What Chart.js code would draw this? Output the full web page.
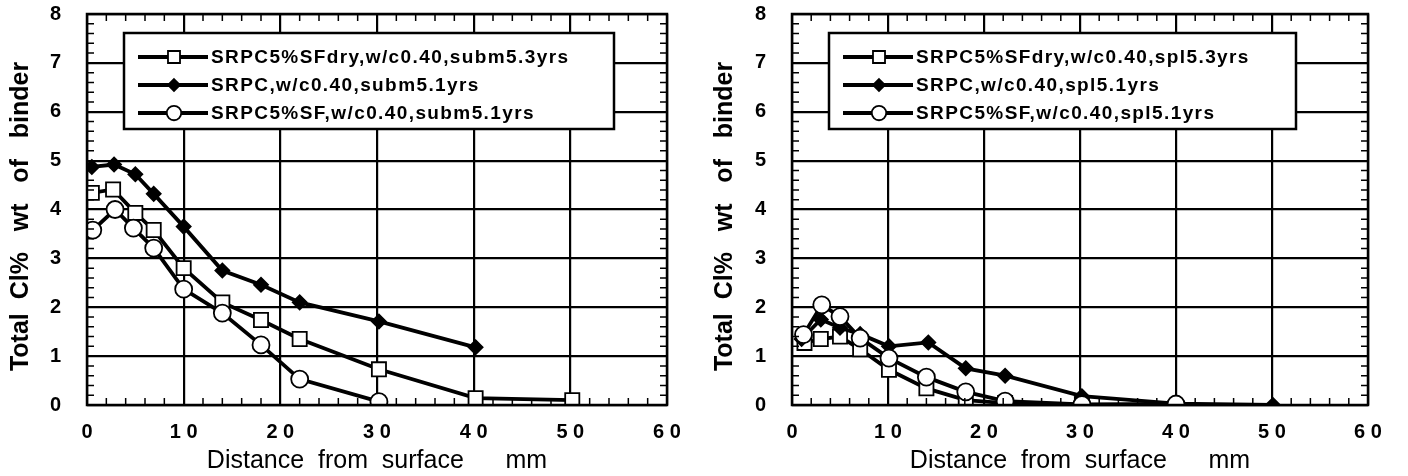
<!DOCTYPE html>
<html>
<head>
<meta charset="utf-8">
<script src="https://cdn.jsdelivr.net/npm/chart.js@4.4.1/dist/chart.umd.min.js"></script>
<style>
  html, body { margin: 0; padding: 0; background: #fff; overflow: hidden; }
  #wrap { position: relative; width: 1408px; height: 476px; overflow: hidden; }
  canvas { position: absolute; top: -24px; }
  #left { left: 0; }
  #right { left: 704px; }
</style>
</head>
<body>
<div id="wrap">
  <canvas id="left" width="704" height="500"></canvas>
  <canvas id="right" width="704" height="500"></canvas>
</div>
<script>
// ---- data ----
// left: submerged
var subDryX = [0.5, 2.7, 5.0, 6.9, 10.0, 14.0, 18.0, 22.0, 30.2, 40.2, 50.2];
var subDryY = [4.34, 4.41, 3.93, 3.58, 2.80, 2.10, 1.74, 1.35, 0.73, 0.14, 0.10];
var subPcX = [0.5, 2.8, 5.0, 6.9, 10.0, 14.0, 18.0, 22.0, 30.2, 40.2];
var subPcY = [4.87, 4.92, 4.72, 4.32, 3.65, 2.75, 2.46, 2.10, 1.71, 1.18];
var subSfX = [0.6, 2.9, 4.8, 6.9, 10.0, 14.0, 18.0, 22.0, 30.2];
var subSfY = [3.58, 4.00, 3.62, 3.21, 2.37, 1.88, 1.23, 0.53, 0.07];

// right: splash
var splDryX = [1.3, 3.0, 5.0, 7.1, 10.1, 14.0, 18.1, 22.2, 30.2];
var splDryY = [1.27, 1.35, 1.40, 1.14, 0.72, 0.34, 0.10, 0.04, 0.0];
var splPcX = [1.0, 3.0, 5.0, 7.1, 10.1, 14.2, 18.1, 22.2, 30.2, 40.0, 50.1];
var splPcY = [1.35, 1.75, 1.58, 1.45, 1.20, 1.28, 0.75, 0.60, 0.18, 0.03, 0.0];
var splSfX = [1.2, 3.1, 5.0, 7.1, 10.1, 14.0, 18.1, 22.2, 30.2, 40.0];
var splSfY = [1.44, 2.05, 1.81, 1.37, 0.96, 0.57, 0.27, 0.08, 0.01, 0.02];

var subLabels = ['SRPC5%SFdry,w/c0.40,subm5.3yrs', 'SRPC,w/c0.40,subm5.1yrs', 'SRPC5%SF,w/c0.40,subm5.1yrs'];
var splLabels = ['SRPC5%SFdry,w/c0.40,spl5.3yrs', 'SRPC,w/c0.40,spl5.1yrs', 'SRPC5%SF,w/c0.40,spl5.1yrs'];

var xTicks = [0, 10, 20, 30, 40, 50, 60];
var yTicks = [0, 1, 2, 3, 4, 5, 6, 7, 8];
var xTitle = 'Distance  from  surface      mm';
var yTitle = 'Total  Cl%   wt   of   binder  ';

var FONT = '"Liberation Sans", Arial, sans-serif';

function pts(xs, ys) {
  return xs.map(function (x, i) { return {x: x, y: ys[i]}; });
}

// marker styles per series (square open, diamond filled, circle open)
var styles = [
  {pointStyle: 'rect', pointRadius: 10, pointBackgroundColor: '#fff'},
  {pointStyle: 'rectRot', pointRadius: 7, pointBackgroundColor: '#000'},
  {pointStyle: 'circle', pointRadius: 8.5, pointBackgroundColor: '#fff'}
];

function makeSets(labels, xsList, ysList) {
  return labels.map(function (lab, i) {
    return Object.assign({
      label: lab,
      data: pts(xsList[i], ysList[i]),
      borderColor: '#000',
      borderWidth: 3.8,
      pointBorderColor: '#000',
      pointBorderWidth: 1.8,
      showLine: true,
      order: 2 - i
    }, styles[i]);
  });
}

// minor ticks on all four sides, pointing inward
var minorTicks = {
  id: 'minorTicks',
  afterDatasetsDraw: function (chart) {
    var ctx = chart.ctx, a = chart.chartArea;
    var xs = chart.scales.x, ys = chart.scales.y;
    ctx.save();
    ctx.strokeStyle = '#000';
    ctx.lineWidth = 1.5;
    ctx.beginPath();
    for (var v = 0.2; v < 8; v += 0.2) {
      if (Math.abs(v - Math.round(v)) < 0.01) continue;
      var py = ys.getPixelForValue(v);
      ctx.moveTo(a.left, py); ctx.lineTo(a.left + 7, py);
      ctx.moveTo(a.right, py); ctx.lineTo(a.right - 7, py);
    }
    for (var u = 2; u < 60; u += 2) {
      if (u % 10 === 0) continue;
      var px = xs.getPixelForValue(u);
      ctx.moveTo(px, a.bottom); ctx.lineTo(px, a.bottom - 7);
      ctx.moveTo(px, a.top); ctx.lineTo(px, a.top + 7);
    }
    ctx.stroke();
    ctx.lineWidth = 2.5;
    ctx.strokeRect(a.left, a.top, a.right - a.left, a.bottom - a.top);
    ctx.restore();
  }
};

// boxed legend inside the plot
function drawMarker(ctx, ds, x, y) {
  ctx.beginPath();
  var r = ds.pointRadius;
  if (ds.pointStyle === 'rect') {
    var s = r * Math.SQRT1_2;
    ctx.rect(x - s, y - s, 2 * s, 2 * s);
  } else if (ds.pointStyle === 'rectRot') {
    ctx.moveTo(x, y - r); ctx.lineTo(x + r, y); ctx.lineTo(x, y + r); ctx.lineTo(x - r, y); ctx.closePath();
  } else {
    ctx.arc(x, y, r, 0, Math.PI * 2);
  }
  ctx.fillStyle = ds.pointBackgroundColor;
  ctx.fill();
  ctx.lineWidth = ds.pointBorderWidth;
  ctx.strokeStyle = '#000';
  ctx.stroke();
}

var boxLegend = {
  id: 'boxLegend',
  afterDraw: function (chart, args, opts) {
    var ctx = chart.ctx, a = chart.chartArea;
    var left = a.left + opts.dx, top = a.top + opts.dy;
    ctx.save();
    ctx.fillStyle = '#fff';
    ctx.fillRect(left, top, opts.w, opts.h);
    ctx.lineWidth = 2.5;
    ctx.strokeStyle = '#000';
    ctx.strokeRect(left, top, opts.w, opts.h);
    chart.data.datasets.forEach(function (ds, i) {
      var y = top + 24 + i * 28;
      ctx.beginPath();
      ctx.lineWidth = 3.8;
      ctx.moveTo(left + 14, y); ctx.lineTo(left + 84, y);
      ctx.stroke();
      drawMarker(ctx, {
        pointStyle: ds.pointStyle, pointRadius: ds.pointRadius * 0.85,
        pointBackgroundColor: ds.pointBackgroundColor, pointBorderWidth: ds.pointBorderWidth
      }, left + 50, y);
      ctx.fillStyle = '#000';
      ctx.font = 'bold 19px ' + FONT;
      ctx.letterSpacing = '1.4px';
      ctx.textBaseline = 'middle';
      ctx.textAlign = 'left';
      ctx.fillText(ds.label, left + 87, y + 1);
    });
    ctx.restore();
  }
};

function makeChart(id, sets, axisW, padRight, legendW) {
  return new Chart(document.getElementById(id), {
    type: 'scatter',
    data: {datasets: sets},
    options: {
      responsive: false,
      animation: false,
      devicePixelRatio: 1,
      layout: {padding: {top: 14, right: padRight, left: 0, bottom: 0}},
      plugins: {
        legend: {display: false},
        tooltip: {enabled: false},
        boxLegend: {dx: 37, dy: 19, w: legendW, h: 96}
      },
      scales: {
        x: {
          type: 'linear', min: 0, max: 60,
          afterBuildTicks: function (s) { s.ticks = xTicks.map(function (v) { return {value: v}; }); },
          afterFit: function (s) { s.height = 71; },
          ticks: {
            color: '#000', padding: 15,
            font: {family: FONT, size: 20, weight: 'bold'},
            callback: function (v) { return String(v).split('').join(' '); }
          },
          grid: {color: '#000', lineWidth: 2.2, drawTicks: false},
          border: {display: false},
          title: {
            display: true, text: xTitle, color: '#000',
            font: {family: FONT, size: 25},
            padding: {top: 0, bottom: 0}
          }
        },
        y: {
          type: 'linear', min: 0, max: 8,
          afterBuildTicks: function (s) { s.ticks = yTicks.map(function (v) { return {value: v}; }); },
          afterFit: function (s) { s.width = axisW; },
          ticks: {
            color: '#000', padding: 26,
            font: {family: FONT, size: 20, weight: 'bold'}
          },
          grid: {color: '#000', lineWidth: 2.2, drawTicks: false},
          border: {display: false},
          title: {
            display: true, text: yTitle, color: '#000',
            font: {family: FONT, size: 25, weight: 'bold'},
            padding: {top: 6, bottom: 0}
          }
        }
      }
    },
    plugins: [minorTicks, boxLegend]
  });
}

makeChart('left', makeSets(subLabels, [subDryX, subPcX, subSfX], [subDryY, subPcY, subSfY]), 87, 37, 490);
makeChart('right', makeSets(splLabels, [splDryX, splPcX, splSfX], [splDryY, splPcY, splSfY]), 88, 40, 467);
</script>
</body>
</html>
